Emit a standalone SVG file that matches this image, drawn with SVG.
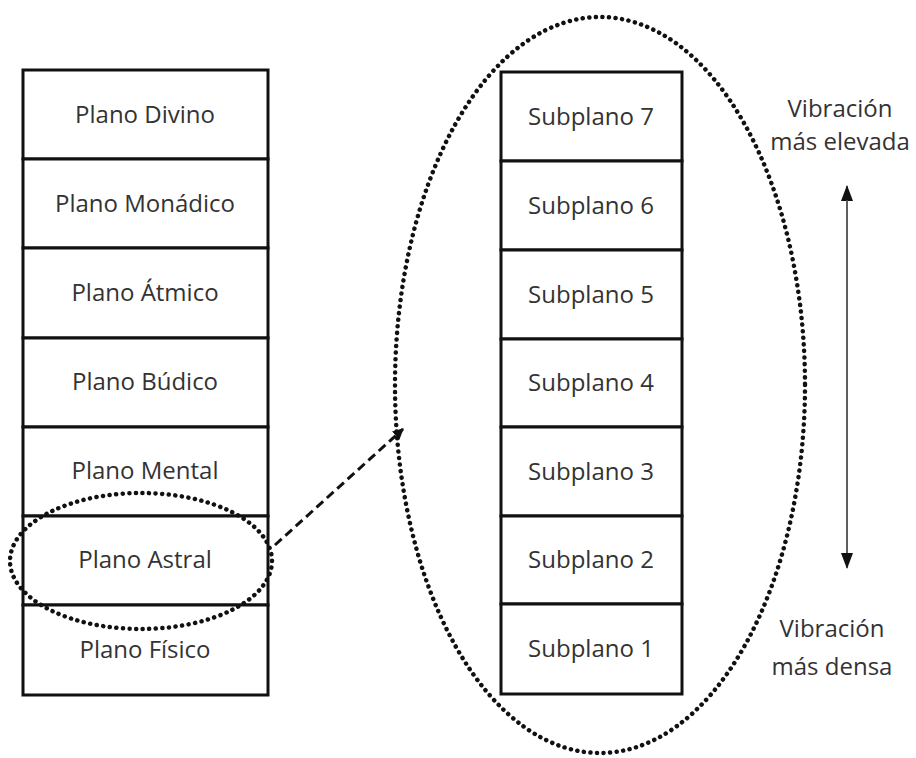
<svg xmlns="http://www.w3.org/2000/svg" width="916" height="758" viewBox="0 0 916 758">
<defs>
<style>
.box{fill:#fff;stroke:#111;stroke-width:3}
.t{font-family:"Open Sans","Liberation Sans",sans-serif;font-size:24px;fill:#333;text-anchor:middle}
.dot{fill:none;stroke:#111;stroke-width:4.5;stroke-dasharray:0.1 6.5;stroke-linecap:round}
</style>
<marker id="ah" viewBox="0 0 10 10" refX="9" refY="5" markerWidth="11" markerHeight="11" markerUnits="userSpaceOnUse" orient="auto">
<path d="M0,0 L10,5 L0,10 z" fill="#111"/>
</marker>
<marker id="ah2" viewBox="0 0 16 12" refX="15" refY="6" markerWidth="16" markerHeight="12" markerUnits="userSpaceOnUse" orient="auto">
<path d="M0,0 L16,6 L0,12 z" fill="#111"/>
</marker>
</defs>
<rect width="916" height="758" fill="#fff"/>
<g id="planos">
<g id="plano-divino"><rect class="box" x="23" y="70" width="245" height="89"/><text class="t" x="145" y="123">Plano Divino</text></g>
<g id="plano-monadico"><rect class="box" x="23" y="159" width="245" height="89"/><text class="t" x="145" y="212">Plano Monádico</text></g>
<g id="plano-atmico"><rect class="box" x="23" y="248" width="245" height="90"/><text class="t" x="145" y="301">Plano Átmico</text></g>
<g id="plano-budico"><rect class="box" x="23" y="338" width="245" height="89"/><text class="t" x="145" y="390">Plano Búdico</text></g>
<g id="plano-mental"><rect class="box" x="23" y="427" width="245" height="89"/><text class="t" x="145" y="479">Plano Mental</text></g>
<g id="plano-astral"><rect class="box" x="23" y="516" width="245" height="89"/><text class="t" x="145" y="568">Plano Astral</text></g>
<g id="plano-fisico"><rect class="box" x="23" y="605" width="245" height="90"/><text class="t" x="145" y="658">Plano Físico</text></g>
</g>
<g id="subplanos">
<g id="subplano-7"><rect class="box" x="501" y="72" width="181" height="89"/><text class="t" x="591" y="125">Subplano 7</text></g>
<g id="subplano-6"><rect class="box" x="501" y="161" width="181" height="89"/><text class="t" x="591" y="214">Subplano 6</text></g>
<g id="subplano-5"><rect class="box" x="501" y="250" width="181" height="89"/><text class="t" x="591" y="303">Subplano 5</text></g>
<g id="subplano-4"><rect class="box" x="501" y="339" width="181" height="88"/><text class="t" x="591" y="391">Subplano 4</text></g>
<g id="subplano-3"><rect class="box" x="501" y="427" width="181" height="89"/><text class="t" x="591" y="480">Subplano 3</text></g>
<g id="subplano-2"><rect class="box" x="501" y="516" width="181" height="88"/><text class="t" x="591" y="568">Subplano 2</text></g>
<g id="subplano-1"><rect class="box" x="501" y="604" width="181" height="90"/><text class="t" x="591" y="657">Subplano 1</text></g>
</g>
<g id="highlights">
<ellipse class="dot" cx="141" cy="561" rx="131" ry="68"/>
<ellipse class="dot" cx="600" cy="385" rx="205" ry="368"/>
</g>
<g id="connectors">
<line x1="275" y1="545" x2="403" y2="429" stroke="#111" stroke-width="3" stroke-dasharray="9 5" marker-end="url(#ah)"/>
<line x1="847" y1="560" x2="847" y2="186" stroke="#555" stroke-width="1.5" marker-end="url(#ah2)"/>
<line x1="847" y1="200" x2="847" y2="568" stroke="#555" stroke-width="1.5" marker-end="url(#ah2)"/>
</g>
<g id="labels">
<text class="t" x="840" y="117">Vibración</text>
<text class="t" x="840" y="150">más elevada</text>
<text class="t" x="832" y="637">Vibración</text>
<text class="t" x="832" y="675">más densa</text>
</g>
</svg>
